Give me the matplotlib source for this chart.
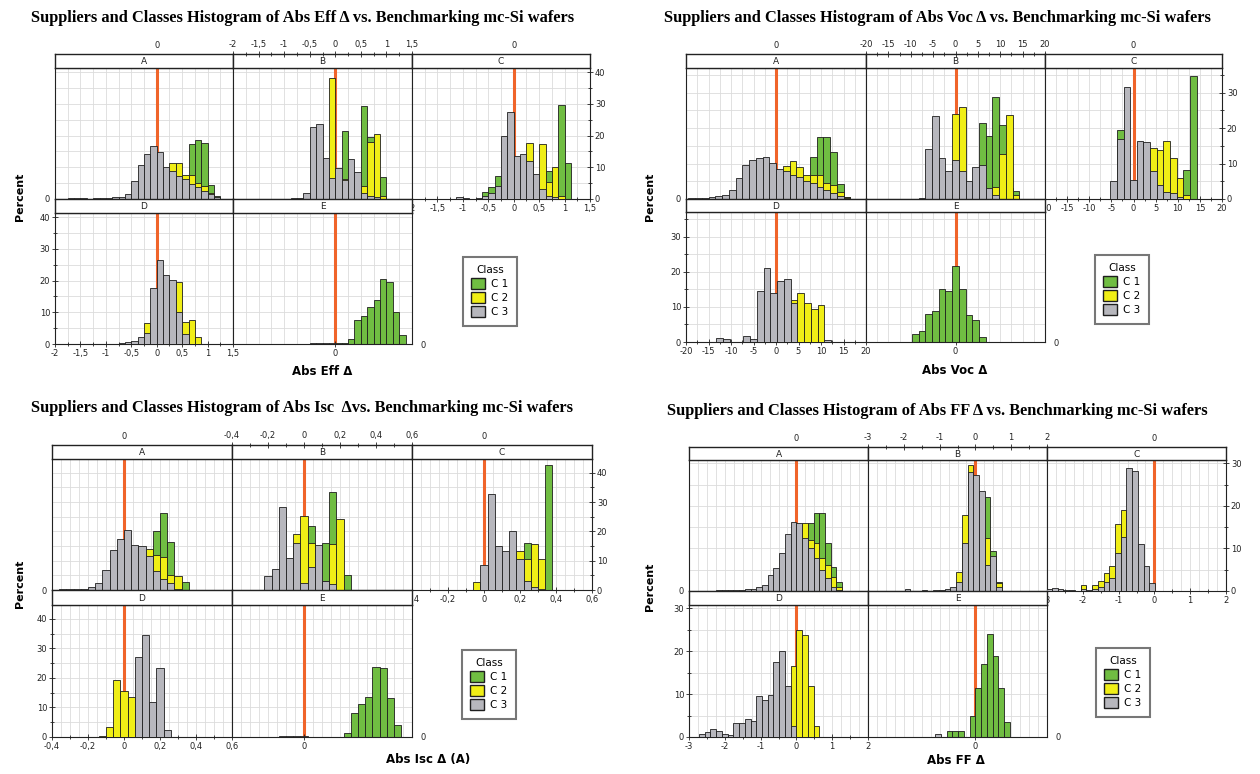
import numpy as np
import matplotlib.pyplot as plt
from matplotlib.patches import Patch
from matplotlib.ticker import MultipleLocator, FuncFormatter

# facets A..E, percent per bin, bins start at *_start[facet] and step *_bw
facets = ['A', 'B', 'C', 'D', 'E']
classes = ['C 1', 'C 2', 'C 3']

# ---------- Abs Eff delta ----------
eff_bw = 0.125
eff_start = [-1.75, -0.875, -1.125, -0.75, -0.5]
eff_c1 = [
    [0, 0, 0, 0, 0, 0, 0, 0, 0, 0, 0, 0, 0, 0, 0, 0, 0, 0, 0, 17.3, 18.5, 17.8, 4.5, 1.0],
    [0, 0, 0, 0, 0, 0, 0, 0, 21.5, 5.0, 0, 29.2, 19.6, 3.0, 7.0],
    [0, 0, 0, 0, 2.3, 3.9, 7.3, 0, 0, 0, 0, 0, 0, 0, 8.9, 3.0, 29.7, 11.2],
    [0, 0, 0, 0, 0, 0, 0, 0, 0, 0, 0, 0, 0],
    [0, 0, 0, 0, 0.3, 0.3, 1.5, 7.5, 8.8, 11.7, 14.0, 20.4, 19.6, 10.2, 2.8],
]
eff_c2 = [
    [0, 0, 0, 0, 0, 0, 0, 0, 0, 0, 0, 0, 0, 0, 0, 0, 11.2, 11.2, 7.6, 7.6, 5.0, 4.0, 1.8, 0],
    [0, 0, 0, 0, 0, 0, 38.2, 3.0, 6.3, 0, 2.0, 4.0, 18.0, 20.4, 1.0],
    [0, 0, 0, 0, 0, 0, 0, 0, 0, 0, 0, 17.7, 5.0, 17.3, 5.5, 10.0, 1.0, 0],
    [0, 0, 0, 0, 6.5, 0, 0, 0, 0, 19.6, 7.0, 7.5, 2.3],
    [0, 0, 0, 0, 0, 0, 0, 0, 0, 0, 0, 0, 0, 0, 0],
]
eff_c3 = [
    [0.3, 0.3, 0.2, 0, 0.2, 0.3, 0.3, 0.5, 0.7, 1.5, 5.8, 10.8, 14.3, 16.8, 14.7, 10.2,
     8.9, 7.3, 6.3, 4.7, 3.7, 2.6, 1.6, 0.7],
    [0.3, 0.3, 2.0, 22.7, 23.6, 12.8, 6.5, 9.7, 6.0, 12.5, 8.5, 2.0, 1.0, 0.5, 0],
    [0.5, 0.3, 0, 0.3, 1.0, 2.0, 4.0, 19.8, 27.4, 13.5, 14.3, 12.0, 8.0, 3.0, 1.0, 0.5, 0, 0],
    [0.3, 0.7, 1.0, 2.3, 3.4, 17.7, 26.4, 21.7, 20.1, 10.0, 3.0, 0, 0],
    [0.3, 0.3, 0.3, 0.3, 0, 0, 0, 0, 0, 0, 0, 0, 0, 0, 0],
]

# ---------- Abs Voc delta ----------
voc_bw = 1.5
voc_start = [-19.5, -8.25, -5.25, -13.25, -9.75]
voc_c1 = [
    [0, 0, 0, 0, 0, 0, 0, 0, 0, 0, 0, 0, 0, 0, 0, 0, 0, 0, 12.0, 17.4, 17.4, 13.4, 4.2, 0.7],
    [0, 0, 0, 0, 0, 0, 0, 0, 0, 21.5, 17.7, 28.8, 21.0, 3.0, 2.3],
    [0, 19.6, 0, 0, 0, 0, 0, 0, 0, 0, 0, 8.2, 34.7],
    [0, 0, 0, 0, 0, 0, 0, 0, 0, 0, 0, 0, 0, 0, 0, 0, 0],
    [2.2, 3.0, 8.0, 8.7, 15.0, 14.5, 21.5, 15.2, 7.6, 6.2, 1.3],
]
voc_c2 = [
    [0, 0, 0, 0, 0, 0, 0, 0, 0, 0, 0, 0, 0, 0, 9.2, 10.6, 8.9, 6.8, 6.8, 6.8, 4.4, 4.0, 2.0, 0.5],
    [0, 0, 0, 0, 0, 24.0, 26.0, 0, 0, 0, 0, 3.5, 12.7, 23.6, 1.0],
    [0, 0, 0, 0, 0, 0, 14.4, 13.9, 16.3, 11.5, 5.9, 1.0, 0],
    [0, 0, 0, 0, 0, 0, 0, 0, 0, 0, 0, 12.0, 14.0, 11.0, 9.5, 10.5, 0],
    [0, 0, 0, 0, 0, 0, 0, 0, 0, 0, 0],
]
voc_c3 = [
    [0.3, 0.2, 0.3, 0.5, 0.8, 1.1, 2.5, 5.9, 9.6, 10.9, 11.5, 11.8, 10.1, 8.5, 7.8, 6.8,
     6.3, 5.2, 4.4, 3.5, 2.5, 1.6, 0.8, 0.3],
    [0.3, 14.0, 23.5, 11.5, 8.0, 11.0, 8.0, 5.0, 9.0, 9.5, 3.0, 1.0, 0, 0, 0],
    [5.0, 17.0, 31.6, 5.4, 16.5, 16.1, 8.0, 4.0, 2.0, 1.6, 0.5, 0, 0],
    [1.2, 0.8, 0, 0, 1.8, 0.8, 14.5, 21.0, 14.0, 17.5, 18.0, 11.0, 0, 0, 0, 0, 0.5],
    [0, 0, 0, 0, 0, 0, 0, 0, 0, 0, 0],
]

# ---------- Abs Isc delta ----------
isc_bw = 0.04
isc_start = [-0.36, -0.22, -0.06, -0.14, -0.14]
isc_c1 = [
    [0, 0, 0, 0, 0, 0, 0, 0, 0, 0, 0, 0, 0, 20.1, 26.4, 16.4, 2.5, 2.7],
    [0, 0, 0, 0, 0, 0, 21.8, 0, 16.0, 33.6, 0, 5.0],
    [0, 0, 0, 0, 0, 0, 0, 16.1, 0.5, 0, 42.5],
    [0, 0, 0, 0, 0, 0, 0, 0, 0, 0],
    [0, 0, 0, 0, 0, 0, 0, 0, 0, 1.5, 8.0, 11.3, 13.4, 23.6, 23.3, 13.3, 4.0],
]
isc_c2 = [
    [0, 0, 0, 0, 0, 0, 0, 0, 0, 0, 0, 0, 13.9, 11.8, 11.4, 5.0, 4.8, 0],
    [0, 0, 0, 0, 19.0, 25.2, 16.0, 0, 3.0, 15.7, 24.1, 0],
    [2.7, 0, 0, 0, 0, 0, 13.3, 10.5, 15.6, 10.5, 0],
    [0.3, 3.4, 19.3, 15.7, 13.6, 0, 0, 0, 0, 0],
    [0, 0, 0, 0, 0, 0, 0, 0, 0, 0, 0, 0, 0, 0, 0, 0, 0],
]
isc_c3 = [
    [0.2, 0.2, 0.2, 0.3, 1.0, 2.5, 6.7, 13.6, 17.5, 20.5, 15.3, 15.0, 11.6, 6.5, 3.8, 2.5, 0.5, 0],
    [4.8, 7.0, 28.4, 11.0, 16.1, 2.5, 8.0, 15.5, 3.0, 2.0, 0, 0],
    [0, 8.4, 32.6, 15.0, 13.3, 20.3, 10.7, 3.0, 1.0, 0.5, 0],
    [0, 0, 0, 0, 0, 27.0, 34.7, 11.9, 23.3, 2.5],
    [0.3, 0.3, 0.3, 0.3, 0, 0, 0, 0, 0, 0, 0, 0, 0, 0, 0, 0, 0],
]

# ---------- Abs FF delta ----------
ff_bw = 0.16
ff_start = [-2.24, -2.14, -3.02, -2.72, -1.12]
ff_c1 = [
    [0, 0, 0, 0, 0, 0, 0, 0, 0, 0, 0, 0, 0, 0, 0, 0, 16.0, 18.4, 18.3, 11.2, 5.7, 2.0],
    [0, 0, 0, 0, 0, 0, 0, 0, 0, 0, 0, 0, 0, 0, 0, 22.2, 9.5, 2.0],
    [0, 0, 0, 0, 0, 0, 1.2, 0, 1.2, 0, 0, 0, 0, 0, 0, 0, 0, 0, 0],
    [0, 0, 0, 0, 0, 0, 0, 0, 0, 0, 0, 0, 0, 0, 0, 0, 0, 0, 0, 0, 0],
    [0, 0, 1.5, 1.5, 1.5, 0, 4.9, 11.5, 17.0, 24.0, 19.0, 11.5, 3.6],
]
ff_c2 = [
    [0, 0, 0, 0, 0, 0, 0, 0, 0, 0, 0, 0, 0, 0, 0, 15.9, 12.0, 11.2, 7.7, 6.1, 3.4, 1.0],
    [0, 0, 0, 0, 0, 0, 0, 0, 0, 0, 4.5, 17.9, 29.6, 0, 0, 12.4, 4.0, 1.8],
    [0, 0, 0, 0, 0, 0, 1.5, 0, 1.5, 2.3, 4.3, 5.9, 15.7, 19.1, 0, 0, 0, 0, 0],
    [0, 0, 0, 0, 0, 0, 0, 0, 0, 0, 0, 0, 0, 0, 0, 0, 16.5, 24.9, 23.9, 12.0, 2.5],
    [0, 0, 0, 0, 0, 0, 0, 0, 0, 0, 0, 0, 0],
]
ff_c3 = [
    [0.2, 0.3, 0.2, 0.3, 0.3, 0.4, 0.5, 1.0, 1.5, 3.7, 5.3, 9.0, 13.3, 16.3, 15.9, 12.4,
     10.0, 7.7, 5.0, 3.0, 1.0, 0.3],
    [0, 0.5, 0, 0, 0.2, 0, 0.3, 0.3, 0.5, 1.0, 2.2, 11.2, 28.0, 27.3, 23.4, 6.0, 8.2, 1.0],
    [0.5, 0.8, 0.5, 0.3, 0.2, 0, 0.5, 0.3, 0.5, 1.0, 2.0, 3.0, 9.0, 12.8, 28.9, 28.3, 11.1, 5.9, 1.8],
    [0.8, 1.2, 1.8, 1.3, 0.8, 0.5, 3.3, 3.3, 4.3, 3.7, 9.5, 8.7, 9.8, 17.6, 20.0, 11.8,
     2.5, 0, 0, 0, 0],
    [0.8, 0, 0, 0, 0, 0, 0, 0, 0, 0, 0, 0, 0],
]

W, H = 1260, 774
GREEN = '#70bd42'
YELLOW = '#f0ee16'
GRAY = '#b7b7bd'
RED = '#f0642a'
EDGE = '#1e1e1e'

fig = plt.figure(figsize=(12.6, 7.74), dpi=100)


def rect(x0, y0, x1, y1):
    return [x0 / W, 1 - y1 / H, (x1 - x0) / W, (y1 - y0) / H]


def num(v, pos=None):
    v = round(v, 3)
    if abs(v) < 1e-9:
        return '0'
    return ('%g' % v).replace('.', ',')


def style(ax, lw=0.8):
    for sp in ax.spines.values():
        sp.set_linewidth(lw)
        sp.set_color('#222222')
    ax.tick_params(which='both', direction='inout', labelsize=6, pad=1.5, width=0.6, colors='#222222')
    ax.tick_params(which='major', length=4)
    ax.tick_params(which='minor', length=2.5)


def quadrant(cols, rows, xlim, ymax, bw, starts, c1, c2, c3, xmaj, xmin, vgrid):
    s0, s1, p1, s2, p2 = rows
    place = [(0, s0, s1, p1), (1, s0, s1, p1), (2, s0, s1, p1),
             (0, p1, s2, p2), (1, p1, s2, p2)]
    for i, (c, st, sb, pb) in enumerate(place):
        name = facets[i]
        x0, x1 = cols[c], cols[c + 1]
        ax = fig.add_axes(rect(x0, sb, x1, pb))
        ax.set_xlim(xlim)
        ax.set_ylim(0, ymax)
        for g in np.arange(xlim[0], xlim[1] + 1e-9, vgrid):
            ax.axvline(g, color='#dcdcdc', lw=0.6, zorder=0)
        for g in np.arange(5, ymax, 5):
            ax.axhline(g, color='#dcdcdc', lw=0.6, zorder=0)
        ax.axvline(0, color=RED, lw=2.2, zorder=1)
        for vals, col, z in ((c1[i], GREEN, 2), (c2[i], YELLOW, 3), (c3[i], GRAY, 4)):
            h = np.array(vals, dtype=float)
            x = starts[i] + bw * np.arange(len(h))
            m = h > 0
            ax.bar(x[m], h[m], width=bw, align='edge', color=col,
                   edgecolor=EDGE, linewidth=0.6, zorder=z)
        style(ax)
        ax.set_xticks([])
        ax.set_yticks([])
        if name in ('C', 'D'):
            ax.xaxis.set_major_locator(MultipleLocator(xmaj))
            ax.xaxis.set_minor_locator(MultipleLocator(xmin))
            ax.xaxis.set_major_formatter(FuncFormatter(num))
            ax.yaxis.set_major_locator(MultipleLocator(10))
            ax.yaxis.set_minor_locator(MultipleLocator(5))
            if name == 'C':
                ax.yaxis.tick_right()
        elif name == 'A':
            ax.set_yticks([0])
            ax.set_yticklabels(['0'])
            ax.tick_params(axis='y', length=0, pad=4)
        elif name == 'E':
            ax.set_xticks([0])
            ax.set_xticklabels(['0'])
            ax.yaxis.tick_right()
            ax.set_yticks([0])
            ax.set_yticklabels(['0'])
            ax.tick_params(axis='y', length=0, pad=6)
        ax.set_xlim(xlim)
        ax.set_ylim(0, ymax)

        sx = fig.add_axes(rect(x0, st, x1, sb))
        sx.set_xlim(xlim)
        sx.set_ylim(0, 1)
        sx.set_yticks([])
        style(sx, lw=1.0)
        sx.text(0.5, 0.45, name, transform=sx.transAxes, ha='center', va='center',
                fontsize=6.5, color='#222222')
        sx.xaxis.tick_top()
        if name == 'B':
            sx.xaxis.set_major_locator(MultipleLocator(xmaj))
            sx.xaxis.set_minor_locator(MultipleLocator(xmin))
            sx.xaxis.set_major_formatter(FuncFormatter(num))
        elif name in ('A', 'C'):
            sx.set_xticks([0])
            sx.set_xticklabels(['0'])
            sx.tick_params(axis='x', length=0, pad=3)
        else:
            sx.set_xticks([])
        sx.set_xlim(xlim)


def legend(x, y):
    handles = [Patch(facecolor=GREEN, edgecolor=EDGE, label=classes[0]),
               Patch(facecolor=YELLOW, edgecolor=EDGE, label=classes[1]),
               Patch(facecolor=GRAY, edgecolor=EDGE, label=classes[2])]
    lg = fig.legend(handles=handles, title='Class', loc='upper left',
                    bbox_to_anchor=(x / W, 1 - y / H), fontsize=7.5, title_fontsize=7.5,
                    frameon=True, fancybox=False, edgecolor='#555555',
                    handlelength=1.3, handleheight=1.2, borderpad=0.8,
                    labelspacing=0.3, handletextpad=0.6, borderaxespad=0)
    lg.get_frame().set_linewidth(1.5)


def texts(title, tx, ty, xlabel, lx, ly, px, py):
    fig.text(tx / W, 1 - ty / H, title, ha='center', va='center', fontsize=11.8,
             fontweight='bold', family='Liberation Serif')
    fig.text(lx / W, 1 - ly / H, xlabel, ha='center', va='center', fontsize=8.5,
             fontweight='bold')
    fig.text(px / W, 1 - py / H, 'Percent', ha='center', va='center', fontsize=8,
             fontweight='bold', rotation=90)


quadrant([55, 233, 412, 590], [54, 68, 199, 213, 344], (-2, 1.5), 41.3, eff_bw,
         eff_start, eff_c1, eff_c2, eff_c3, 0.5, 0.25, 0.25)
texts('Suppliers and Classes Histogram of Abs Eff \u0394 vs. Benchmarking mc-Si wafers',
      303, 18, 'Abs Eff \u0394', 322, 371, 20, 197)
legend(463, 257)

quadrant([686, 866, 1045, 1222], [54, 68, 199, 212, 342], (-20, 20), 37, voc_bw,
         voc_start, voc_c1, voc_c2, voc_c3, 5, 2.5, 2.5)
texts('Suppliers and Classes Histogram of Abs Voc \u0394 vs. Benchmarking mc-Si wafers',
      937, 18, 'Abs Voc \u0394', 955, 370, 650, 197)
legend(1095, 255)

quadrant([52, 232, 412, 592], [445, 459, 590, 605, 737], (-0.4, 0.6), 44.7, isc_bw,
         isc_start, isc_c1, isc_c2, isc_c3, 0.2, 0.1, 0.05)
texts('Suppliers and Classes Histogram of Abs Isc  \u0394vs. Benchmarking mc-Si wafers',
      302, 408, 'Abs Isc \u0394 (A)', 428, 760, 20, 584)
legend(462, 650)

quadrant([689, 868, 1047, 1226], [447, 460, 591, 605, 737], (-3, 2), 30.8, ff_bw,
         ff_start, ff_c1, ff_c2, ff_c3, 1, 0.5, 0.25)
texts('Suppliers and Classes Histogram of Abs FF \u0394 vs. Benchmarking mc-Si wafers',
      937, 411, 'Abs FF \u0394', 956, 761, 650, 587)
legend(1096, 648)

fig.savefig('out.png', dpi=100)
